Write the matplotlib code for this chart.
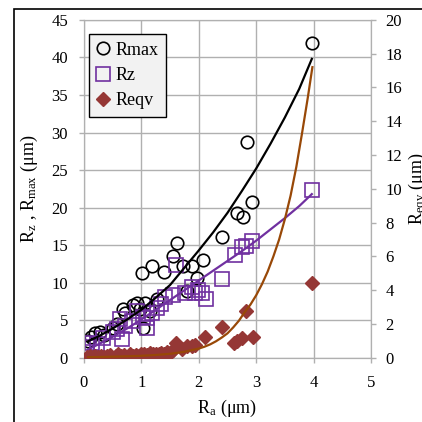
import numpy as np
import matplotlib
matplotlib.use('Agg')
import matplotlib.pyplot as plt
from matplotlib.patches import Rectangle
from matplotlib.lines import Line2D

plt.rcParams['font.family'] = ['Liberation Serif', 'DejaVu Serif']
plt.rcParams['mathtext.fontset'] = 'stix'

# Rmax (left axis)
rmax_x = [0.07, 0.12, 0.2, 0.28, 0.35, 0.5, 0.57, 0.68, 0.72, 0.86, 0.92, 0.97, 1.03, 1.01,
          1.06, 1.15, 1.18, 1.27, 1.40, 1.55, 1.62, 1.72, 1.79, 1.88, 1.97, 2.07, 2.40, 2.66,
          2.77, 2.92, 2.84, 3.97]
rmax_y = [2.3, 2.8, 3.3, 3.5, 3.0, 4.0, 4.5, 6.5, 6.0, 7.0, 7.3, 6.5, 4.0, 11.3,
          7.3, 6.3, 12.2, 7.8, 11.4, 13.5, 15.3, 12.2, 8.9, 12.2, 10.6, 13.0, 16.1, 19.3,
          18.7, 20.7, 28.7, 41.9]

# Rz (left axis)
rz_x = [0.06, 0.06, 0.14, 0.22, 0.33, 0.51, 0.57, 0.63, 0.66, 0.71, 0.83, 0.92, 1.03, 1.09,
        1.10, 1.18, 1.27, 1.35, 1.41, 1.55, 1.61, 1.76, 1.88, 1.93, 1.99, 2.05, 2.13, 2.40,
        2.63, 2.75, 2.82, 2.92, 3.97]
rz_y = [0.8, 1.4, 2.0, 1.9, 2.7, 3.4, 3.9, 5.2, 2.5, 4.3, 4.9, 6.3, 5.5, 4.0,
        5.3, 6.0, 6.7, 7.2, 8.1, 8.4, 12.3, 8.6, 9.4, 8.6, 9.0, 8.7, 7.8, 10.5,
        13.7, 14.8, 14.9, 15.6, 22.3]

# Reqv (right axis)
reqv_x = [0.06, 0.1, 0.15, 0.2, 0.25, 0.3, 0.35, 0.4, 0.45, 0.55, 0.6, 0.65, 0.7, 0.8, 0.85,
          0.9, 0.95, 1.0, 1.05, 1.1, 1.15, 1.2, 1.25, 1.3, 1.35, 1.4, 1.45, 1.5, 1.55, 1.61,
          1.7, 1.79, 1.88, 1.93, 2.11, 2.40, 2.61, 2.66, 2.76, 2.83, 2.94, 3.98]
reqv_y = [0.05, 0.1, 0.05, 0.1, 0.05, 0.1, 0.05, 0.1, 0.15, 0.1, 0.2, 0.1, 0.15, 0.2, 0.1,
          0.15, 0.1, 0.25, 0.2, 0.15, 0.3, 0.2, 0.25, 0.2, 0.3, 0.25, 0.35, 0.3, 0.45, 0.9,
          0.55, 0.7, 0.7, 0.75, 1.25, 1.85, 0.85, 1.0, 1.2, 2.8, 1.25, 4.4]

# trendlines
trend_x = [0.07, 0.25, 0.5, 0.75, 1.0, 1.25, 1.5, 1.75, 2.0, 2.25, 2.5, 2.75, 3.0, 3.25,
           3.5, 3.75, 3.97]
rmax_trend = [2.2, 2.85, 3.9, 5.1, 6.4, 8.0, 9.7, 12.0, 14.3, 16.7, 19.3, 22.2, 25.2, 28.5,
              32.0, 35.8, 39.8]
rz_trend = [1.1, 1.8, 2.8, 3.9, 5.1, 6.4, 7.7, 9.0, 10.3, 11.6, 12.9, 14.2, 15.6, 17.1,
            18.6, 20.2, 21.8]
reqv_trend_x = [0.07, 0.25, 0.5, 0.75, 1.0, 1.25, 1.5, 1.75, 2.0, 2.1, 2.2, 2.3, 2.4, 2.5,
                2.6, 2.7, 2.8, 2.9, 3.0, 3.1, 3.2, 3.3, 3.4, 3.5, 3.6, 3.7, 3.8, 3.9, 3.98]
reqv_trend = [0.04, 0.05, 0.07, 0.09, 0.12, 0.17, 0.24, 0.36, 0.55, 0.66, 0.8, 0.98, 1.2,
              1.45, 1.8, 2.2, 2.7, 3.15, 3.7, 4.35, 5.1, 6.0, 7.0, 8.2, 9.6, 11.3, 13.3, 15.4,
              17.2]

purple = '#7030A0'
darkred = '#953735'
brown = '#984807'
grey = '#b0b0b0'

fig = plt.figure(figsize=(4.22, 4.22), dpi=100)
ax = fig.add_axes([0.199, 0.152, 0.680, 0.801])
ax2 = ax.twinx()

ax.plot(rmax_x, rmax_y, 'o', ms=9, mfc='none', mec='black', mew=1.2, label='Rmax', zorder=3)
ax.plot(rz_x, rz_y, 's', ms=9.5, mfc='none', mec=purple, mew=1.2, label='Rz', zorder=3)
ax.plot(trend_x, rmax_trend, '-', color='black', lw=1.6, zorder=4)
ax.plot(trend_x, rz_trend, '-', color=purple, lw=1.6, zorder=4)
ax2.plot(reqv_x, reqv_y, 'D', ms=7, color=darkred, mec=darkred, zorder=3)
ax2.plot(reqv_trend_x, reqv_trend, '-', color=brown, lw=1.6, zorder=4)

ax.set_xlim(0, 5)
ax.set_ylim(0, 45)
ax2.set_ylim(0, 20)
ax.set_xticks(range(0, 6))
ax.set_yticks(range(0, 46, 5))
ax2.set_yticks(range(0, 21, 2))
ax.grid(True, color=grey, lw=1)
ax.set_axisbelow(True)

for a in (ax, ax2):
    for s in a.spines.values():
        s.set_color(grey)
    a.tick_params(colors=grey, labelcolor='black', labelsize=12, length=3.5, width=1)
ax.tick_params(axis='y', pad=8)
ax.tick_params(axis='x', pad=8.5)
ax2.tick_params(axis='y', pad=7)

ax.set_xlabel(r'R$_\mathregular{a}$ (μm)', fontsize=13, labelpad=5)
ax.set_ylabel(r'R$_\mathregular{z}$ , R$_\mathregular{max}$ (μm)', fontsize=13, labelpad=8)
ax2.set_ylabel(r'R$_\mathregular{eqv}$ (μm)', fontsize=13, labelpad=3)

h1 = ax.get_legend_handles_labels()
hd = Line2D([], [], ls='none', marker='D', ms=7, color=darkred)
leg = ax.legend(h1[0] + [hd], h1[1] + ['Reqv'], loc='upper left',
                bbox_to_anchor=(0.017, 0.959), borderaxespad=0, fontsize=13,
                fancybox=False, framealpha=1, facecolor='#f2f2f2', edgecolor='black',
                handlelength=0.7, handletextpad=0.3, borderpad=0.45, labelspacing=0.45)
leg.get_frame().set_linewidth(1)
leg.set_zorder(10)

fig.patches.append(Rectangle((14 / 422, -0.5), 2, 1.5 - 9 / 422, transform=fig.transFigure,
                             fill=False, edgecolor='black', lw=1.2))

fig.savefig('out.png', dpi=100)
